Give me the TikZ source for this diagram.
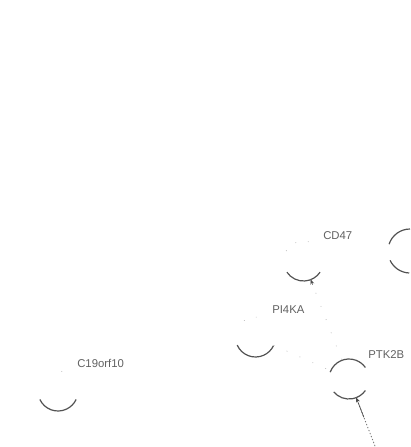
\documentclass[tikz,border=0pt]{standalone}
\usepackage{fontspec}
\setmainfont{Liberation Sans}
\usetikzlibrary{arrows.meta,calc}
\begin{document}
\begin{tikzpicture}[x=0.75pt,y=-0.75pt,
  gene/.style={circle,draw=none,minimum size=30pt,inner sep=0pt,outer sep=0pt},
  bignode/.style={gene,minimum size=33pt},
  ringarc/.style={draw=black!68,line width=0.9pt},
  faintarc/.style={draw=black!35,line width=0.5pt,dash pattern=on 0.5pt off 9pt},
  genelabel/.style={anchor=west,inner sep=0pt,text=black!62,font=\fontsize{8.5}{10}\selectfont},
  faintedge/.style={draw=black!30,line width=0.5pt,dash pattern=on 0.6pt off 10pt},
  dotedge/.style={draw=black!55,line width=0.6pt,dash pattern=on 1pt off 1.4pt},
  tipend/.style={draw=black!70,line width=0.5pt,-{Stealth[length=3.5pt,width=3pt]}}
]
\useasboundingbox (0,0) rectangle (411,447);
% nodes
\node[gene] (cd47) at (303.5,261) {};
\node[gene] (pi4ka) at (255.5,337) {};
\node[gene] (c19) at (58,391) {};
\node[gene] (ptk2b) at (349,379) {};
\node[bignode] (rn) at (410,251) {};
\coordinate (below) at (382,464);
% labels
\node[genelabel] (lcd47) at (323,235.5) {CD47};
\node[genelabel] (lpi4ka) at (272,310) {PI4KA};
\node[genelabel] (lc19) at (77,363) {C19orf10};
\node[genelabel] (lptk2b) at (368,355) {PTK2B};
% rings (partially drawn)
\draw[ringarc] (cd47.-146) arc[start angle=-146,end angle=-34,radius=15pt];
\draw[faintarc] (cd47.150) arc[start angle=150,end angle=60,radius=15pt];
\draw[ringarc] (pi4ka.-156) arc[start angle=-156,end angle=-26,radius=15pt];
\draw[faintarc] (pi4ka.125) arc[start angle=125,end angle=70,radius=15pt];
\draw[ringarc] (c19.-155) arc[start angle=-155,end angle=-25,radius=15pt];
\draw[faintarc] (c19.80) arc[start angle=80,end angle=60,radius=15pt];
\draw[ringarc] (ptk2b.160) arc[start angle=160,end angle=35,radius=15pt];
\draw[ringarc] (ptk2b.-140) arc[start angle=-140,end angle=-35,radius=15pt];
\draw[ringarc] (rn.90) arc[start angle=90,end angle=162,radius=16.5pt];
\draw[ringarc] (rn.205) arc[start angle=205,end angle=268,radius=16.5pt];
% connectors
\draw[faintedge] (cd47) -- (ptk2b);
\draw[faintedge] (pi4ka) -- (ptk2b);
\draw[tipend] ($(cd47)!0.2!(ptk2b)$) -- (cd47);
\draw[dotedge] (below) -- (ptk2b);
\draw[tipend] ($(ptk2b)!0.45!(below)$) -- (ptk2b);
\end{tikzpicture}
\end{document}
